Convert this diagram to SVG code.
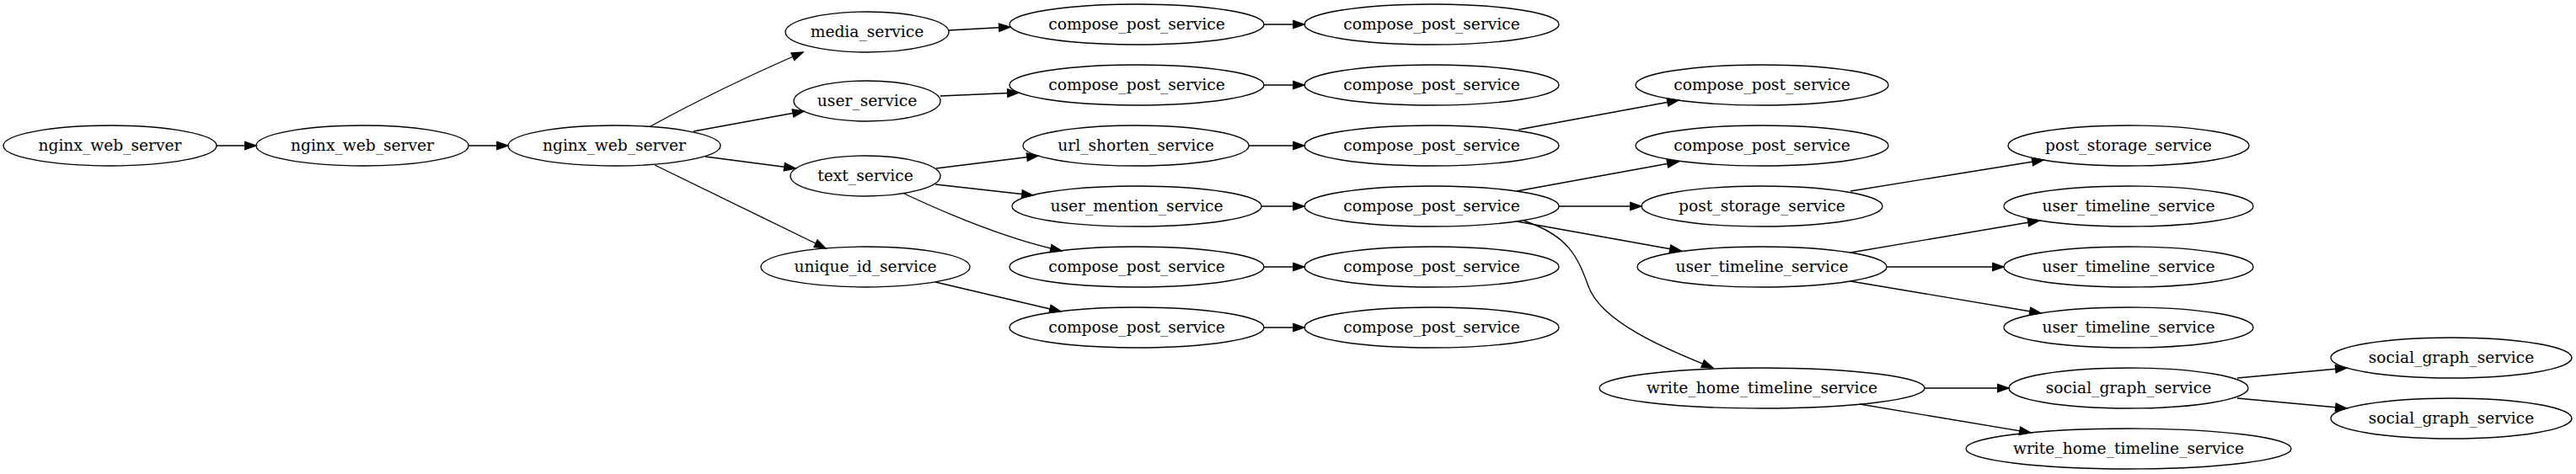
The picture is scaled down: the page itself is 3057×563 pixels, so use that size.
<svg xmlns="http://www.w3.org/2000/svg" width="3057" height="563" viewBox="0 0 3057 563">
<style>
.node ellipse{fill:none;stroke:#000;stroke-width:1.33}
.node text{font-family:"DejaVu Serif","Liberation Serif",serif;font-size:18.67px;text-anchor:middle;fill:#000}
#edges path{fill:none;stroke:#000;stroke-width:1.33;marker-end:url(#arr)}
</style>
<defs>
<marker id="arr" markerUnits="userSpaceOnUse" markerWidth="16" markerHeight="12" viewBox="0 -6 16 12" refX="13.3" refY="0" orient="auto" overflow="visible">
<path d="M0,-4.67 L13.33,0 L0,4.67 z" fill="#000" stroke="#000" stroke-width="1.33"/>
</marker>
</defs>
<rect width="3057" height="563" fill="#fff"/>
<g id="edges">
<path d="M257,173 L304,173"/>
<path d="M556,173 L603,173"/>
<path d="M772,150 C812,128 870,98 953,62"/>
<path d="M823,156 L954,132"/>
<path d="M837,186 L944,200"/>
<path d="M777,196 L980,295"/>
<path d="M1126,36 L1199,32"/>
<path d="M1116,114 L1209,110"/>
<path d="M1111,200 L1232,185"/>
<path d="M1110,219 L1226,232"/>
<path d="M1073,230 C1120,252 1190,283 1260,298"/>
<path d="M1110,335 L1259,370"/>
<path d="M1500,29 L1548,29"/>
<path d="M1500,101 L1548,101"/>
<path d="M1482,173 L1548,173"/>
<path d="M1497,245 L1548,245"/>
<path d="M1500,317 L1548,317"/>
<path d="M1500,389 L1548,389"/>
<path d="M1802,154 L1992,119"/>
<path d="M1800,227 L1992,192"/>
<path d="M1850,245 L1948,245"/>
<path d="M1800,263 L1995,298"/>
<path d="M1808,262 C1862,280 1872,305 1885,340 C1900,382 1975,414 2033,437"/>
<path d="M2196,227 L2425,190"/>
<path d="M2196,300 L2420,262"/>
<path d="M2239,317 L2378,317"/>
<path d="M2196,334 L2422,372"/>
<path d="M2284,461 L2384,461"/>
<path d="M2207,480 L2410,514"/>
<path d="M2655,449 L2785,437"/>
<path d="M2655,473 L2785,485"/>
</g>
<g id="n1" class="node"><ellipse cx="130.5" cy="173" rx="126.5" ry="24"/><text x="130.5" y="178.5">nginx_web_server</text></g>
<g id="n2" class="node"><ellipse cx="430" cy="173" rx="126" ry="24"/><text x="430" y="178.5">nginx_web_server</text></g>
<g id="n3" class="node"><ellipse cx="729" cy="173" rx="126" ry="24"/><text x="729" y="178.5">nginx_web_server</text></g>
<g id="n4" class="node"><ellipse cx="1029" cy="38" rx="97" ry="24"/><text x="1029" y="43.5">media_service</text></g>
<g id="n5" class="node"><ellipse cx="1029" cy="120" rx="87" ry="24"/><text x="1029" y="125.5">user_service</text></g>
<g id="n6" class="node"><ellipse cx="1027" cy="209" rx="89" ry="24"/><text x="1027" y="214.5">text_service</text></g>
<g id="n7" class="node"><ellipse cx="1027" cy="317" rx="124" ry="24"/><text x="1027" y="322.5">unique_id_service</text></g>
<g id="n8" class="node"><ellipse cx="1349" cy="29" rx="151" ry="24"/><text x="1349" y="34.5">compose_post_service</text></g>
<g id="n9" class="node"><ellipse cx="1349" cy="101" rx="151" ry="24"/><text x="1349" y="106.5">compose_post_service</text></g>
<g id="n10" class="node"><ellipse cx="1348" cy="173" rx="134" ry="24"/><text x="1348" y="178.5">url_shorten_service</text></g>
<g id="n11" class="node"><ellipse cx="1349" cy="245" rx="148" ry="24"/><text x="1349" y="250.5">user_mention_service</text></g>
<g id="n12" class="node"><ellipse cx="1349" cy="317" rx="151" ry="24"/><text x="1349" y="322.5">compose_post_service</text></g>
<g id="n13" class="node"><ellipse cx="1349" cy="389" rx="151" ry="24"/><text x="1349" y="394.5">compose_post_service</text></g>
<g id="n14" class="node"><ellipse cx="1699" cy="29" rx="151" ry="24"/><text x="1699" y="34.5">compose_post_service</text></g>
<g id="n15" class="node"><ellipse cx="1699" cy="101" rx="151" ry="24"/><text x="1699" y="106.5">compose_post_service</text></g>
<g id="n16" class="node"><ellipse cx="1699" cy="173" rx="151" ry="24"/><text x="1699" y="178.5">compose_post_service</text></g>
<g id="n17" class="node"><ellipse cx="1699" cy="245" rx="151" ry="24"/><text x="1699" y="250.5">compose_post_service</text></g>
<g id="n18" class="node"><ellipse cx="1699" cy="317" rx="151" ry="24"/><text x="1699" y="322.5">compose_post_service</text></g>
<g id="n19" class="node"><ellipse cx="1699" cy="389" rx="151" ry="24"/><text x="1699" y="394.5">compose_post_service</text></g>
<g id="n20" class="node"><ellipse cx="2091" cy="101" rx="150" ry="24"/><text x="2091" y="106.5">compose_post_service</text></g>
<g id="n21" class="node"><ellipse cx="2091" cy="173" rx="150" ry="24"/><text x="2091" y="178.5">compose_post_service</text></g>
<g id="n22" class="node"><ellipse cx="2091" cy="245" rx="143" ry="24"/><text x="2091" y="250.5">post_storage_service</text></g>
<g id="n23" class="node"><ellipse cx="2091" cy="317" rx="148" ry="24"/><text x="2091" y="322.5">user_timeline_service</text></g>
<g id="n24" class="node"><ellipse cx="2091" cy="461" rx="193" ry="24"/><text x="2091" y="466.5">write_home_timeline_service</text></g>
<g id="n25" class="node"><ellipse cx="2526" cy="173" rx="143" ry="24"/><text x="2526" y="178.5">post_storage_service</text></g>
<g id="n26" class="node"><ellipse cx="2526" cy="245" rx="148" ry="24"/><text x="2526" y="250.5">user_timeline_service</text></g>
<g id="n27" class="node"><ellipse cx="2526" cy="317" rx="148" ry="24"/><text x="2526" y="322.5">user_timeline_service</text></g>
<g id="n28" class="node"><ellipse cx="2526" cy="389" rx="148" ry="24"/><text x="2526" y="394.5">user_timeline_service</text></g>
<g id="n29" class="node"><ellipse cx="2526" cy="461" rx="142" ry="24"/><text x="2526" y="466.5">social_graph_service</text></g>
<g id="n30" class="node"><ellipse cx="2526" cy="533" rx="193" ry="24"/><text x="2526" y="538.5">write_home_timeline_service</text></g>
<g id="n31" class="node"><ellipse cx="2909" cy="425" rx="143" ry="24"/><text x="2909" y="430.5">social_graph_service</text></g>
<g id="n32" class="node"><ellipse cx="2909" cy="497" rx="143" ry="24"/><text x="2909" y="502.5">social_graph_service</text></g>
</svg>
